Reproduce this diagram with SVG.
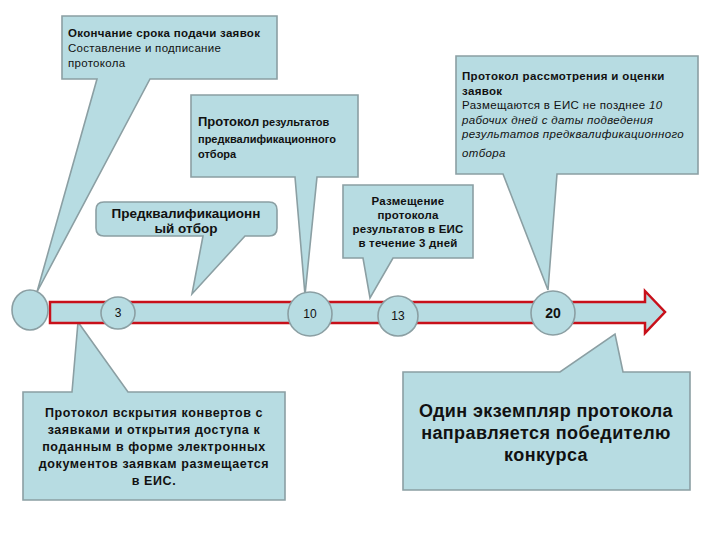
<svg xmlns="http://www.w3.org/2000/svg" width="720" height="540" viewBox="0 0 720 540">
<style>
.c{fill:#b7dce2;stroke:#8b9fa3;stroke-width:1.6;stroke-linejoin:miter}
.t{font-family:"Liberation Sans",Arial,sans-serif;fill:#111}
.b{font-weight:bold}
.i{font-style:italic}
.m{text-anchor:middle}
</style>
<rect width="720" height="540" fill="#fff"/>
<g id="n1"><path class="c" d="M62,16 H277 V79 H150 L37,292 L97,79 H62 Z"/>
<text class="t" font-size="11.5" letter-spacing="0.3"><tspan class="b" x="68" y="37">Окончание срока подачи заявок</tspan><tspan x="68" y="52">Составление и подписание</tspan><tspan x="68" y="67">протокола</tspan></text></g>
<g id="n2"><path class="c" d="M191,95 H358 V177 H317 L305,295 L295,177 H191 Z"/>
<text class="t b" font-size="11"><tspan x="198" y="126"><tspan font-size="13">Протокол</tspan> результатов</tspan><tspan x="198" y="143">предквалификационного</tspan><tspan x="198" y="158">отбора</tspan></text></g>
<g id="n3"><path class="c" d="M104,202 H269 Q277,202 277,210 V228 Q277,236 269,236 H245 L192,294 L203,236 H104 Q96,236 96,228 V210 Q96,202 104,202 Z"/>
<text class="t b m" font-size="13.5"><tspan x="186" y="218">Предквалификационн</tspan><tspan x="186" y="233">ый отбор</tspan></text></g>
<g id="n4"><path class="c" d="M343,185 H473 V258 H393 L370,298 L363,258 H343 Z"/>
<text class="t b m" font-size="11.5" letter-spacing="0.2"><tspan x="408" y="205">Размещение</tspan><tspan x="408" y="219">протокола</tspan><tspan x="408" y="233">результатов в ЕИС</tspan><tspan x="408" y="247">в течение 3 дней</tspan></text></g>
<g id="n5"><path class="c" d="M456,56 H698 V174 H557 L548,290 L503,174 H456 Z"/>
<text class="t" font-size="11.5" letter-spacing="0.35"><tspan class="b" x="462" y="80">Протокол рассмотрения и оценки</tspan><tspan class="b" x="462" y="95">заявок</tspan><tspan x="462" y="109">Размещаются в ЕИС не позднее <tspan class="i">10</tspan></tspan><tspan class="i" x="462" y="124">рабочих дней с даты подведения</tspan><tspan class="i" x="462" y="138">результатов предквалификационного</tspan><tspan class="i" x="462" y="157">отбора</tspan></text></g>
<g id="n6"><path class="c" d="M23,392 H72 L78,322 L128,392 H285 V500 H23 Z"/>
<text class="t b m" font-size="12.5" letter-spacing="0.6"><tspan x="154" y="417">Протокол вскрытия конвертов с</tspan><tspan x="154" y="434">заявками и открытия доступа к</tspan><tspan x="154" y="451">поданным в форме электронных</tspan><tspan x="154" y="468">документов заявкам размещается</tspan><tspan x="154" y="485">в ЕИС.</tspan></text></g>
<g id="n7"><path class="c" d="M403,372 H560 L615,334 L623,372 H690 V490 H403 Z"/>
<text class="t b m" font-size="18" letter-spacing="0.4"><tspan x="546" y="417">Один экземпляр протокола</tspan><tspan x="546" y="439">направляется победителю</tspan><tspan x="546" y="461">конкурса</tspan></text></g>
<g id="connectors">
<path d="M50,302 H645 V291 L665,312 L645,333 V323 H50 Z" fill="#b7dce2" stroke="#c8101a" stroke-width="2.5"/>
</g>
<g id="m0"><ellipse class="c" stroke-width="2" cx="30" cy="310" rx="18" ry="20"/></g>
<g id="m3"><ellipse class="c" stroke-width="2" cx="118" cy="313" rx="17" ry="16"/><text class="t m" font-size="12" x="118" y="317">3</text></g>
<g id="m10"><ellipse class="c" stroke-width="2" cx="310" cy="314" rx="22" ry="22"/><text class="t m" font-size="12" x="310" y="318">10</text></g>
<g id="m13"><ellipse class="c" stroke-width="2" cx="398" cy="316" rx="20" ry="20"/><text class="t m" font-size="12" x="398" y="320">13</text></g>
<g id="m20"><ellipse class="c" stroke-width="2" cx="553" cy="313" rx="22" ry="22"/><text class="t m b" font-size="14" x="553" y="318">20</text></g>
</svg>
